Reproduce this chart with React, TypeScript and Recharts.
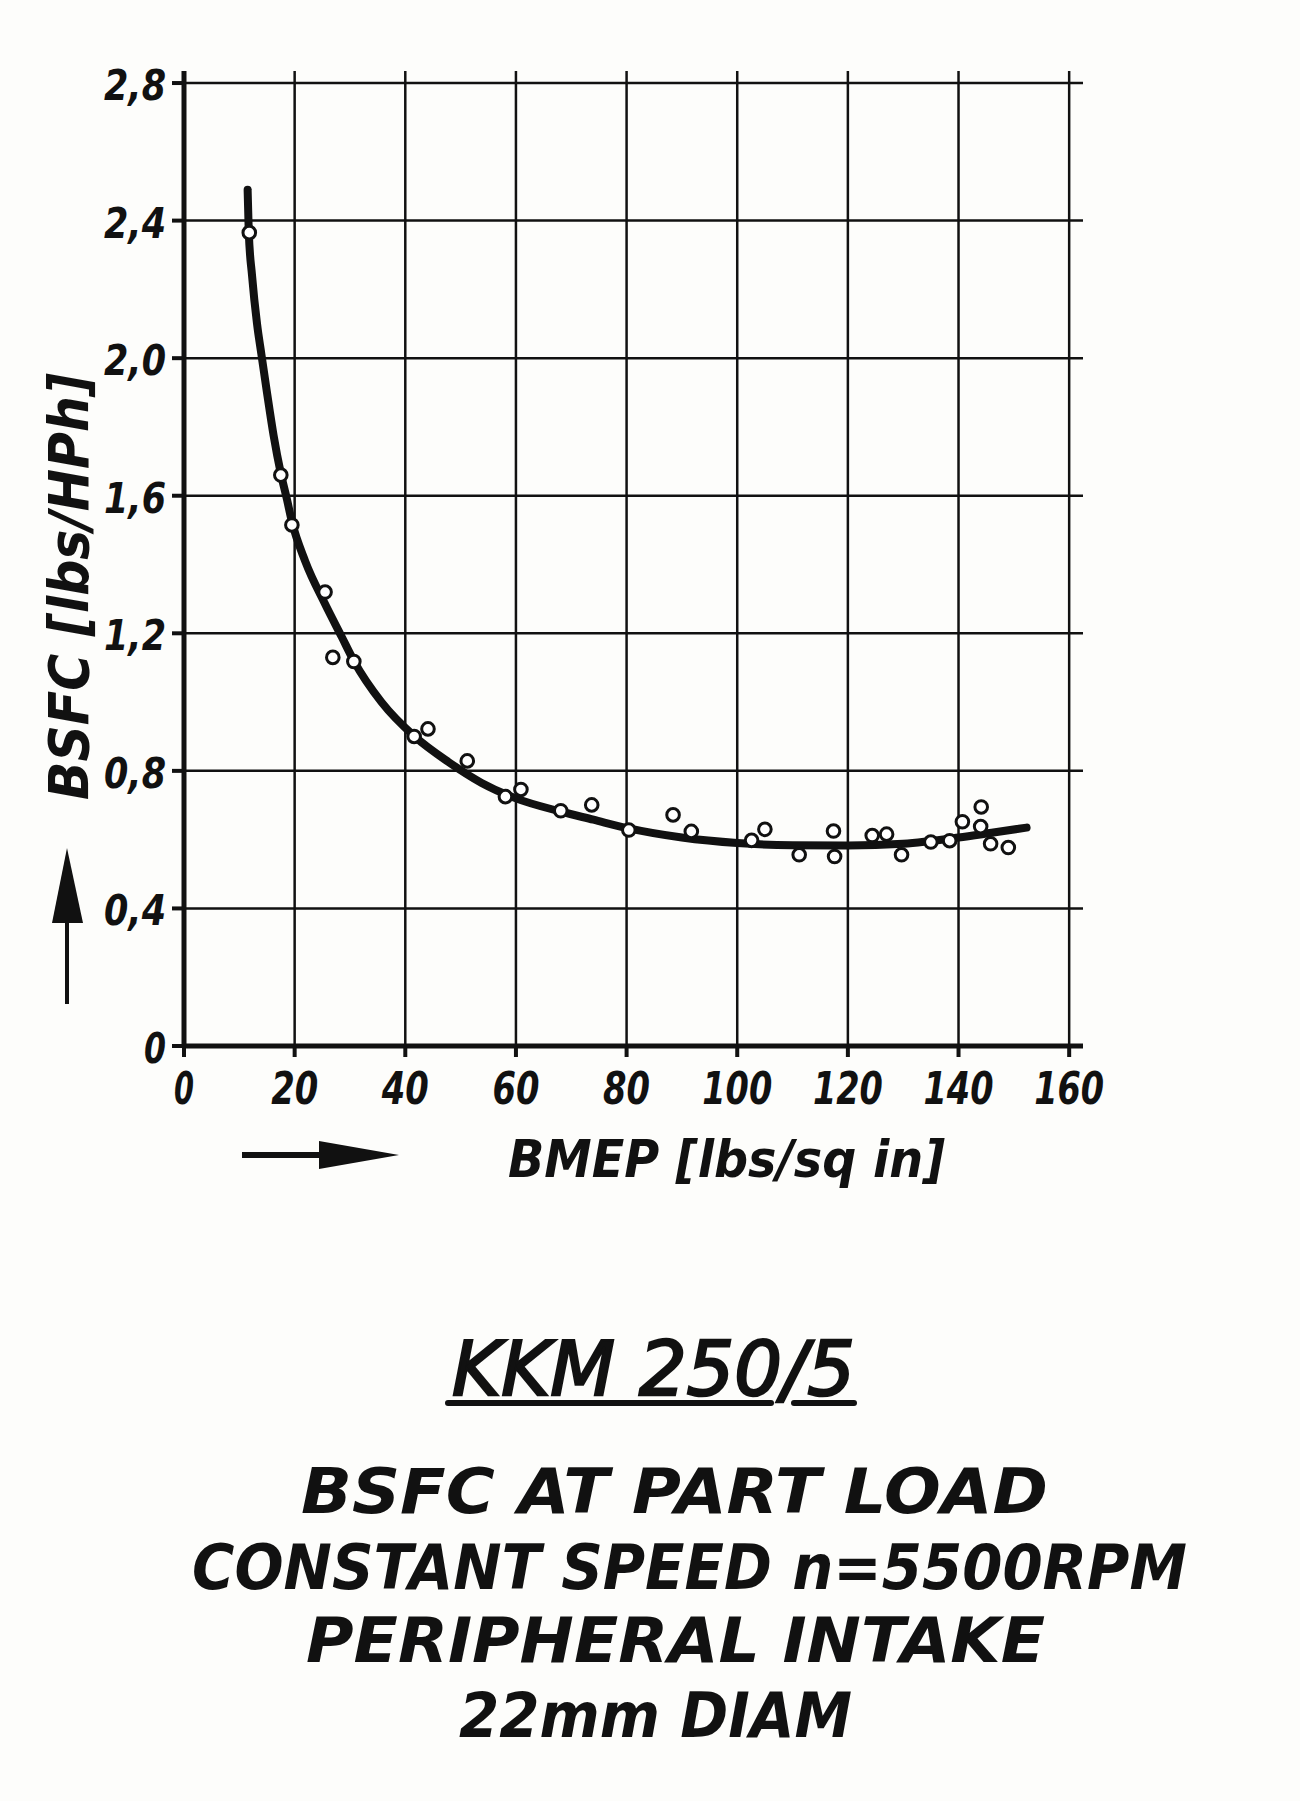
import React from 'react'
import {
  ComposedChart,
  Line,
  Scatter,
  XAxis,
  YAxis,
  ReferenceLine,
} from 'recharts'

// measured test points
const bmep = [
  11.8, 17.5, 19.5, 25.5, 26.9, 30.7, 41.6, 44.1, 51.2, 58.1, 60.9, 68.1, 73.7,
  80.4, 88.4, 91.7, 102.6, 105.0, 111.2, 117.4, 117.6, 124.4, 127.0, 129.7,
  135.0, 138.4, 140.7, 144.1, 144.0, 145.8, 149.0,
]
const bsfc = [
  2.365, 1.66, 1.515, 1.32, 1.13, 1.118, 0.9, 0.922, 0.829, 0.725, 0.746, 0.684,
  0.701, 0.628, 0.672, 0.624, 0.598, 0.63, 0.556, 0.625, 0.551, 0.612, 0.616,
  0.556, 0.593, 0.597, 0.652, 0.695, 0.638, 0.588, 0.577,
]

// hand-drawn mean curve
const curveBmep = [
  11.5, 11.7, 12.3, 13.2, 14.0, 15.0, 16.2, 17.5, 18.6, 19.5, 21.9, 25.5, 28.5,
  30.7, 35.7, 41.7, 47.8, 53.8, 60, 68, 74, 80, 90, 100, 110, 120, 130, 140,
  146, 152.3,
]
const curveBsfc = [
  2.49, 2.37, 2.24, 2.1, 2.01, 1.9, 1.775, 1.665, 1.59, 1.525, 1.41, 1.285,
  1.19, 1.12, 1.0, 0.9, 0.826, 0.765, 0.72, 0.682, 0.658, 0.634, 0.606, 0.59,
  0.584, 0.583, 0.588, 0.606, 0.62, 0.635,
]

const xTicks = [0, 20, 40, 60, 80, 100, 120, 140, 160]
const yTicks = [0, 0.4, 0.8, 1.2, 1.6, 2.0, 2.4, 2.8]

const titleLines = [
  'BSFC AT PART LOAD',
  'CONSTANT SPEED n=5500RPM',
  'PERIPHERAL INTAKE',
  '22mm DIAM',
]

const INK = '#111'
const FONT = '"DejaVu Sans", sans-serif'

const points = bmep.map((x, i) => ({ x, y: bsfc[i] }))
const curve = curveBmep.map((x, i) => ({ x, y: curveBsfc[i] }))

function yLabel(v: number) {
  return v === 0 ? '0' : v.toFixed(1).replace('.', ',')
}

function XTick({ x, y, payload }: any) {
  const s = String(payload.value)
  const w = s.length === 1 ? 20 : s.length === 2 ? 47 : 70
  return (
    <text
      x={x}
      y={y + 45}
      textAnchor="middle"
      fontFamily={FONT}
      fontSize={45}
      fontWeight="bold"
      fontStyle="italic"
      fill={INK}
      textLength={w}
      lengthAdjust="spacingAndGlyphs"
    >
      {s}
    </text>
  )
}

function YTick({ x, y, payload }: any) {
  const s = yLabel(payload.value)
  return (
    <text
      x={x - 4}
      y={y + 17}
      textAnchor="end"
      fontFamily={FONT}
      fontSize={42}
      fontWeight="bold"
      fontStyle="italic"
      fill={INK}
      textLength={s.length === 1 ? 22 : 62}
      lengthAdjust="spacingAndGlyphs"
    >
      {s}
    </text>
  )
}

function Dot({ cx, cy }: any) {
  return <circle cx={cx} cy={cy} r={6.3} fill="#fff" stroke={INK} strokeWidth={3} />
}

export default function App() {
  const txt = {
    fontFamily: FONT,
    fontStyle: 'italic',
    fill: INK,
  } as const
  return (
    <div
      style={{
        position: 'absolute',
        left: 0,
        top: 0,
        width: 1300,
        height: 1801,
        background: '#fdfdfb',
      }}
    >
      <ComposedChart
        width={1300}
        height={1801}
        margin={{ top: 71, right: 217, bottom: 695, left: 84 }}
      >
        <XAxis
          type="number"
          dataKey="x"
          domain={[0, 162.5]}
          ticks={xTicks}
          interval={0}
          height={60}
          axisLine={{ stroke: INK, strokeWidth: 5 }}
          tickLine={{ stroke: INK, strokeWidth: 4 }}
          tickSize={11}
          tick={<XTick />}
        />
        <YAxis
          type="number"
          domain={[0, 2.835]}
          ticks={yTicks}
          interval={0}
          width={100}
          axisLine={{ stroke: INK, strokeWidth: 5 }}
          tickLine={{ stroke: INK, strokeWidth: 4 }}
          tickSize={12}
          tick={<YTick />}
        />
        {xTicks.slice(1).map((t) => (
          <ReferenceLine key={'vx' + t} x={t} stroke={INK} strokeWidth={2.5} />
        ))}
        {yTicks.slice(1).map((t) => (
          <ReferenceLine key={'hy' + t} y={t} stroke={INK} strokeWidth={2.5} />
        ))}
        <Line
          data={curve}
          dataKey="y"
          type="monotone"
          stroke={INK}
          strokeWidth={8}
          strokeLinecap="round"
          dot={false}
          activeDot={false}
          isAnimationActive={false}
        />
        <Scatter
          data={points}
          dataKey="y"
          shape={<Dot />}
          isAnimationActive={false}
        />
      </ComposedChart>

      <svg
        width={1300}
        height={1801}
        style={{ position: 'absolute', left: 0, top: 0, pointerEvents: 'none' }}
      >
        {/* y axis title + arrow */}
        <text
          {...txt}
          fontSize={55}
          fontWeight="bold"
          transform="translate(88 800) rotate(-90)"
          textLength={427}
          lengthAdjust="spacingAndGlyphs"
        >
          BSFC [lbs/HPh]
        </text>
        <line x1={67} y1={1004} x2={67} y2={915} stroke={INK} strokeWidth={4} />
        <polygon points="67,848 52,923 83,923" fill={INK} />

        {/* x axis title + arrow */}
        <text
          {...txt}
          x={508}
          y={1177}
          fontSize={52}
          fontWeight="bold"
          textLength={437}
          lengthAdjust="spacingAndGlyphs"
        >
          BMEP [lbs/sq in]
        </text>
        <line x1={242} y1={1155} x2={325} y2={1155} stroke={INK} strokeWidth={6} />
        <polygon points="319,1141 399,1155 319,1169" fill={INK} />

        {/* caption */}
        <text
          {...txt}
          x={452}
          y={1395}
          fontSize={75}
          stroke={INK}
          strokeWidth={2.5}
          textLength={403}
          lengthAdjust="spacingAndGlyphs"
        >
          KKM 250/5
        </text>
        <line x1={448} y1={1403} x2={771} y2={1403} stroke={INK} strokeWidth={6} strokeLinecap="round" />
        <line x1={794} y1={1403} x2={854} y2={1403} stroke={INK} strokeWidth={6} strokeLinecap="round" />
        {titleLines.map((t, i) => {
          const pos = [
            [301, 1513, 747],
            [192, 1589, 995],
            [306, 1662, 739],
            [459, 1737, 393],
          ][i]
          return (
            <text
              key={t}
              {...txt}
              x={pos[0]}
              y={pos[1]}
              fontSize={63}
              fontWeight="bold"
              textLength={pos[2]}
              lengthAdjust="spacingAndGlyphs"
            >
              {t}
            </text>
          )
        })}
      </svg>
    </div>
  )
}
